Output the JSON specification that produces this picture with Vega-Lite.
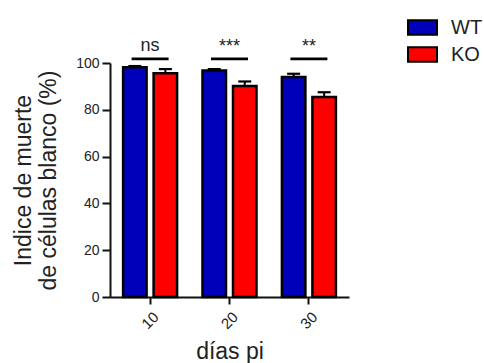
{
  "$schema": "https://vega.github.io/schema/vega-lite/v6.json",
  "width": 239,
  "height": 234,
  "autosize": {"type": "none"},
  "padding": {"left": 110, "top": 63, "right": 135, "bottom": 66},
  "config": {
    "font": "Liberation Sans",
    "view": {"stroke": null},
    "axis": {"labelFont": "Liberation Sans", "titleFont": "Liberation Sans", "labelColor": "#222", "titleColor": "#222", "domainColor": "#111", "tickColor": "#111", "domainWidth": 2, "tickWidth": 2, "grid": false, "titleFontWeight": "normal"}
  },
  "datasets": {
    "bars": [
      {"dia": "10", "grupo": "WT", "valor": 98.2, "err": 0.5},
      {"dia": "10", "grupo": "KO", "valor": 95.6, "err": 1.8},
      {"dia": "20", "grupo": "WT", "valor": 96.8, "err": 0.6},
      {"dia": "20", "grupo": "KO", "valor": 90.2, "err": 1.9},
      {"dia": "30", "grupo": "WT", "valor": 94.0, "err": 1.4},
      {"dia": "30", "grupo": "KO", "valor": 85.5, "err": 2.0}
    ],
    "sig": [
      {"dia": "10", "y": 101.8, "ty": 103.4, "label": "ns"},
      {"dia": "20", "y": 101.8, "ty": 103.0, "label": "***"},
      {"dia": "30", "y": 101.8, "ty": 103.0, "label": "**"}
    ]
  },
  "layer": [
    {
      "data": {"name": "bars"},
      "mark": {"type": "rule", "stroke": "black", "strokeWidth": 2},
      "encoding": {
        "x": {"field": "dia", "type": "nominal", "scale": {"paddingInner": 0.32, "paddingOuter": 0.165}},
        "xOffset": {"field": "grupo", "type": "nominal", "sort": ["WT", "KO"], "scale": {"paddingInner": 0.23, "paddingOuter": 0}},
        "y": {"field": "valor", "type": "quantitative"},
        "y2": {"field": "top"}
      },
      "transform": [{"calculate": "datum.valor + datum.err", "as": "top"}]
    },
    {
      "data": {"name": "bars"},
      "mark": {"type": "bar", "stroke": "black", "strokeWidth": 2.5},
      "encoding": {
        "x": {"field": "dia", "type": "nominal", "sort": ["10", "20", "30"],
          "axis": {"title": "días pi", "labelAngle": -45, "labelFontSize": 15, "titleFontSize": 23, "tickSize": 7, "labelPadding": 16, "titlePadding": 9, "labelAlign": "center", "labelBaseline": "middle"}},
        "xOffset": {"field": "grupo", "type": "nominal", "sort": ["WT", "KO"]},
        "y": {"field": "valor", "type": "quantitative", "scale": {"domain": [0, 100], "nice": false},
          "axis": {"title": ["Indice de muerte", "de células blanco (%)"], "values": [0, 20, 40, 60, 80, 100], "labelFontSize": 14, "titleFontSize": 23, "titleLineHeight": 25, "tickSize": 8, "labelPadding": 3, "titlePadding": 15}},
        "fill": {"field": "grupo", "type": "nominal", "sort": ["WT", "KO"],
          "scale": {"domain": ["WT", "KO"], "range": ["#0000BB", "#FF0000"]},
          "legend": {"title": null, "orient": "none", "legendX": 297, "legendY": -51, "symbolType": "M-1,-0.5H1V0.5H-1Z", "symbolSize": 841, "symbolStrokeColor": "black", "symbolStrokeWidth": 2, "symbolOpacity": 1, "labelFontSize": 20, "labelColor": "#222", "labelOffset": 13, "rowPadding": -2.5}}
      }
    },
    {
      "data": {"name": "bars"},
      "transform": [{"calculate": "datum.valor + datum.err", "as": "top"}],
      "mark": {"type": "tick", "color": "black", "size": 13, "thickness": 2.2, "opacity": 1},
      "encoding": {
        "x": {"field": "dia", "type": "nominal"},
        "xOffset": {"field": "grupo", "type": "nominal", "sort": ["WT", "KO"]},
        "y": {"field": "top", "type": "quantitative"}
      }
    },
    {
      "data": {"name": "sig"},
      "mark": {"type": "tick", "color": "black", "size": 37, "thickness": 2.8, "opacity": 1},
      "encoding": {
        "x": {"field": "dia", "type": "nominal"},
        "y": {"field": "y", "type": "quantitative"}
      }
    },
    {
      "data": {"name": "sig"},
      "mark": {"type": "text", "baseline": "bottom", "fontSize": 18, "color": "#222"},
      "encoding": {
        "x": {"field": "dia", "type": "nominal"},
        "y": {"field": "ty", "type": "quantitative"},
        "text": {"field": "label"}
      }
    }
  ]
}
